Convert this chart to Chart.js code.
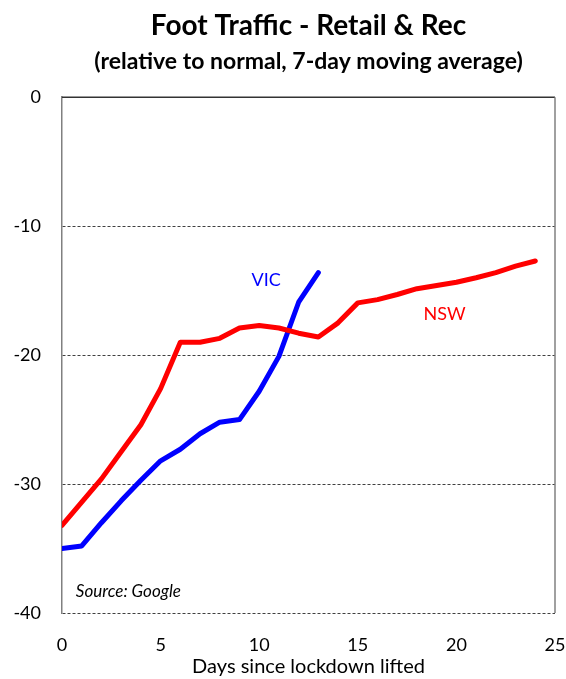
<!DOCTYPE html>
<html>
<head>
<meta charset="utf-8">
<script src="https://cdn.jsdelivr.net/npm/chart.js@4.4.0/dist/chart.umd.min.js"></script>
<style>
  html, body { margin: 0; padding: 0; background: #fff; }
  #wrap { width: 566px; height: 679px; position: relative; }
</style>
</head>
<body>
<div id="wrap"><canvas id="myChart"></canvas></div>
<script>
// days since lockdown lifted
const nswDays = [0, 1, 2, 3, 4, 5, 6, 7, 8, 9, 10, 11, 12, 13, 14, 15, 16, 17, 18, 19, 20, 21, 22, 23, 24];
const nswValues = [-33.2, -31.4, -29.6, -27.5, -25.4, -22.6, -19.0, -19.0, -18.7, -17.9, -17.7, -17.9, -18.3, -18.6,
  -17.5, -15.95, -15.7, -15.3, -14.85, -14.6, -14.35, -14.0, -13.6, -13.1, -12.7];
const vicDays = [0, 1, 2, 3, 4, 5, 6, 7, 8, 9, 10, 11, 12, 13];
const vicValues = [-35.0, -34.8, -33.0, -31.3, -29.7, -28.2, -27.3, -26.1, -25.2, -25.0, -22.8, -20.1, -15.9, -13.6];
const yTicks = [0, -10, -20, -30, -40];
const xTicks = [0, 5, 10, 15, 20, 25];

const FONT = 'Lato, "Open Sans", sans-serif';

const toPoints = (xs, ys) => xs.map((x, i) => ({x: x, y: ys[i]}));

// frame (top + right) and in-plot labels
const extras = {
  id: 'extras',
  beforeDatasetsDraw: (chart) => {
    const {ctx, chartArea} = chart;
    const {top, right, bottom, left} = chartArea;
    ctx.save();
    ctx.lineWidth = 1.5;
    ctx.strokeStyle = '#333333';
    ctx.beginPath();
    ctx.moveTo(left, top);
    ctx.lineTo(right, top);
    ctx.stroke();
    ctx.strokeStyle = '#808080';
    ctx.beginPath();
    ctx.moveTo(right, top);
    ctx.lineTo(right, bottom);
    ctx.stroke();
    ctx.restore();
  },
  afterDatasetsDraw: (chart) => {
    const ctx = chart.ctx;
    const xs = chart.scales.x;
    const ys = chart.scales.y;
    ctx.save();
    ctx.textBaseline = 'middle';
    ctx.textAlign = 'center';
    ctx.font = '18px ' + FONT;
    ctx.fillStyle = '#0000ff';
    ctx.fillText('VIC', xs.getPixelForValue(10.35), ys.getPixelForValue(-14.2));
    ctx.fillStyle = '#ff0000';
    ctx.fillText('NSW', xs.getPixelForValue(19.4), ys.getPixelForValue(-16.8));
    ctx.textAlign = 'left';
    ctx.font = 'italic 17px ' + FONT;
    ctx.fillStyle = '#000000';
    ctx.fillText('Source: Google', xs.getPixelForValue(0.7), ys.getPixelForValue(-38.3));
    ctx.restore();
  }
};

new Chart(document.getElementById('myChart'), {
  type: 'line',
  data: {
    datasets: [
      {
        label: 'NSW',
        data: toPoints(nswDays, nswValues),
        borderColor: '#ff0000',
        borderWidth: 5,
        pointRadius: 0,
        tension: 0,
        borderCapStyle: 'round',
        borderJoinStyle: 'round'
      },
      {
        label: 'VIC',
        data: toPoints(vicDays, vicValues),
        borderColor: '#0000ff',
        borderWidth: 5,
        pointRadius: 0,
        tension: 0,
        borderCapStyle: 'round',
        borderJoinStyle: 'round'
      }
    ]
  },
  options: {
    responsive: true,
    maintainAspectRatio: false,
    animation: false,
    layout: { padding: { left: 0, right: 0, top: 0, bottom: 0 } },
    plugins: {
      legend: { display: false },
      tooltip: { enabled: false },
      title: {
        display: true,
        fullSize: false,
        text: 'Foot Traffic - Retail & Rec',
        color: '#000',
        font: { family: FONT, size: 28, weight: 'bold', lineHeight: 1.2 },
        padding: { top: 9, bottom: 5 }
      },
      subtitle: {
        display: true,
        fullSize: false,
        text: '(relative to normal, 7-day moving average)',
        color: '#000',
        font: { family: FONT, size: 23, weight: 'bold', lineHeight: 1.2 },
        padding: { top: 0, bottom: 22 }
      }
    },
    scales: {
      x: {
        type: 'linear',
        min: 0,
        max: 25,
        afterBuildTicks: (scale) => { scale.ticks = xTicks.map(v => ({value: v})); },
        afterFit: (scale) => {
          scale.height = 66;
          scale.paddingRight = 11;
        },
        grid: { display: false, drawTicks: false },
        border: { display: false },
        ticks: {
          color: '#000',
          padding: 21,
          maxRotation: 0,
          font: { family: FONT, size: 18 }
        },
        title: {
          display: true,
          text: 'Days since lockdown lifted',
          color: '#000',
          padding: 0,
          font: { family: FONT, size: 20 }
        }
      },
      y: {
        min: -40,
        max: 0,
        afterBuildTicks: (scale) => { scale.ticks = yTicks.map(v => ({value: v})); },
        afterFit: (scale) => { scale.width = 62; },
        grid: {
          drawTicks: false,
          lineWidth: 1,
          color: (c) => (c.tick && c.tick.value === 0) ? 'rgba(0,0,0,0)' : '#404040'
        },
        border: { display: true, color: '#808080', width: 1.5, dash: [3, 2] },
        ticks: {
          color: '#000',
          padding: 21,
          font: { family: FONT, size: 18 }
        }
      }
    }
  },
  plugins: [extras]
});
</script>
</body>
</html>
